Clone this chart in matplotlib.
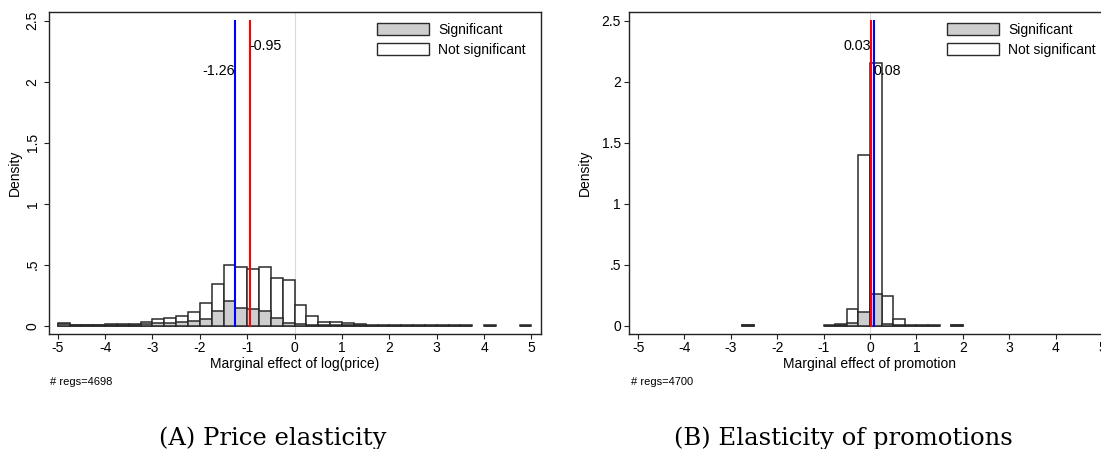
import numpy as np
import matplotlib
matplotlib.use("Agg")
import matplotlib.pyplot as plt
import matplotlib.patches as mpatches

OUTPUT = "out.png"

# =========================
# DATA (bin width 0.25, bins from -5 to 5)
# =========================
BIN_WIDTH = 0.25
bin_left = np.arange(-5, 5, BIN_WIDTH)

price_notsig = [0.022, 0.005, 0.004, 0.006, 0.012, 0.010, 0.012, 0.027,
                0.055, 0.063, 0.080, 0.110, 0.183, 0.339, 0.495, 0.478,
                0.464, 0.478, 0.388, 0.374, 0.172, 0.077, 0.033, 0.033,
                0.019, 0.011, 0.008, 0.005, 0.004, 0.005, 0.003, 0.003,
                0.003, 0.004, 0.003, 0.0, 0.003, 0.0, 0.0, 0.003]
price_sig = [0.012, 0.003, 0.002, 0.003, 0.006, 0.005, 0.006, 0.012,
             0.022, 0.025, 0.027, 0.041, 0.055, 0.117, 0.202, 0.148,
             0.139, 0.117, 0.060, 0.025, 0.011, 0.005, 0.003, 0.003,
             0.002, 0.002, 0.001, 0.001, 0.001, 0.001, 0.001, 0.001,
             0.001, 0.001, 0.001, 0.0, 0.001, 0.0, 0.0, 0.001]

promo_notsig = [0.0, 0.0, 0.0, 0.0, 0.0, 0.0, 0.0, 0.0,
                0.0, 0.004, 0.0, 0.0, 0.0, 0.0, 0.0, 0.0,
                0.003, 0.010, 0.139, 1.399, 2.153, 0.240, 0.052, 0.003,
                0.003, 0.003, 0.0, 0.004, 0.0, 0.0, 0.0, 0.0,
                0.0, 0.0, 0.0, 0.0, 0.0, 0.0, 0.0, 0.0]
promo_sig = [0.0, 0.0, 0.0, 0.0, 0.0, 0.0, 0.0, 0.0,
             0.0, 0.002, 0.0, 0.0, 0.0, 0.0, 0.0, 0.0,
             0.001, 0.004, 0.025, 0.109, 0.262, 0.016, 0.003, 0.001,
             0.001, 0.001, 0.0, 0.002, 0.0, 0.0, 0.0, 0.0,
             0.0, 0.0, 0.0, 0.0, 0.0, 0.0, 0.0, 0.0]

# red and blue reference lines
price_red, price_blue = -0.95, -1.26
promo_red, promo_blue = 0.03, 0.08

x_ticks = [-5, -4, -3, -2, -1, 0, 1, 2, 3, 4, 5]
y_ticks = [0, 0.5, 1, 1.5, 2, 2.5]
y_ticklabels = ["0", ".5", "1", "1.5", "2", "2.5"]

GREY = "#cecece"
EDGE = "#2b2b2b"

plt.rcParams["font.family"] = ["Liberation Sans", "DejaVu Sans"]
plt.rcParams["font.size"] = 10


def draw_panel(ax, notsig, sig, red, blue, xlabel, rotate_y, leg_x):
    ns = np.array(notsig)
    sg = np.array(sig)
    m = ns > 0
    ax.bar(bin_left[m], ns[m], width=BIN_WIDTH, align="edge", color="white",
           edgecolor=EDGE, linewidth=1.1, zorder=2)
    m = sg > 0
    ax.bar(bin_left[m], sg[m], width=BIN_WIDTH, align="edge", color=GREY,
           edgecolor=EDGE, linewidth=1.1, zorder=3)

    ax.axvline(0, color="#dadada", linewidth=0.8, zorder=1)
    ax.plot([red, red], [0, 2.5], color="red", linewidth=1.5, zorder=4)
    ax.plot([blue, blue], [0, 2.5], color="blue", linewidth=1.5, zorder=4)

    # smaller value labelled on the left, larger one on the right
    lo, hi = min(red, blue), max(red, blue)
    y_lo = 2.295 if lo == red else 2.088
    y_hi = 2.295 if hi == red else 2.088
    ax.text(lo, y_lo, f"{lo:.2f}", ha="right", va="center", fontsize=10.3, zorder=5)
    ax.text(hi, y_hi, f"{hi:.2f}", ha="left", va="center", fontsize=10.3, zorder=5)

    ax.set_xlim(-5.19, 5.19)
    ax.set_ylim(-0.068, 2.569)
    ax.set_xticks(x_ticks)
    ax.set_xticklabels([str(t) for t in x_ticks])
    ax.set_yticks(y_ticks)
    if rotate_y:
        ax.set_yticklabels(y_ticklabels, rotation=90, va="center")
        ax.tick_params(axis="y", pad=3)
    else:
        ax.set_yticklabels(y_ticklabels)
        ax.tick_params(axis="y", pad=2.5)
    ax.tick_params(axis="both", length=3.6, width=0.8, color="#222222",
                   labelsize=10)
    ax.tick_params(axis="x", pad=1.5)
    for s in ax.spines.values():
        s.set_linewidth(1.0)
        s.set_color("#222222")

    ax.set_xlabel(xlabel, va="center", fontsize=10)
    ax.xaxis.set_label_coords(0.5, -0.094)
    ax.set_ylabel("Density", va="center", fontsize=10)

    handles = [
        mpatches.Patch(facecolor=GREY, edgecolor=EDGE, linewidth=1.0, label="Significant"),
        mpatches.Patch(facecolor="white", edgecolor=EDGE, linewidth=1.0, label="Not significant"),
    ]
    ax.legend(handles=handles, loc="upper left", bbox_to_anchor=(leg_x, 0.9677),
              frameon=False, borderpad=0, borderaxespad=0, handlelength=3.75,
              handleheight=1.0, handletextpad=0.65, labelspacing=0.45,
              fontsize=10)


fig = plt.figure(figsize=(11.01, 4.49), dpi=100)
ax1 = fig.add_axes([48.7 / 1101, 0.2561, 491.8 / 1101, 0.7165])
ax2 = fig.add_axes([629.3 / 1101, 0.2561, 481.4 / 1101, 0.7165])

draw_panel(ax1, price_notsig, price_sig, price_red, price_blue,
           "Marginal effect of log(price)", True, 0.667)
draw_panel(ax2, promo_notsig, promo_sig, promo_red, promo_blue,
           "Marginal effect of promotion", False, 0.66)
ax1.yaxis.set_label_coords((15 - 48.7) / 491.8, 0.5)
ax2.yaxis.set_label_coords((585 - 629.3) / 481.4, 0.5)

fig.text(50 / 1101, 1 - 382.3 / 449, "# regs=4698", fontsize=8, va="center")
fig.text(631 / 1101, 1 - 382.3 / 449, "# regs=4700", fontsize=8, va="center")

cap_font = ["DejaVu Serif"]
fig.text(272.5 / 1101, 4 / 449, "(A) Price elasticity", ha="center",
         va="baseline", fontsize=17.5, family=cap_font)
fig.text(843 / 1101, 4 / 449, "(B) Elasticity of promotions", ha="center",
         va="baseline", fontsize=17.5, family=cap_font)

fig.savefig(OUTPUT, dpi=100)
